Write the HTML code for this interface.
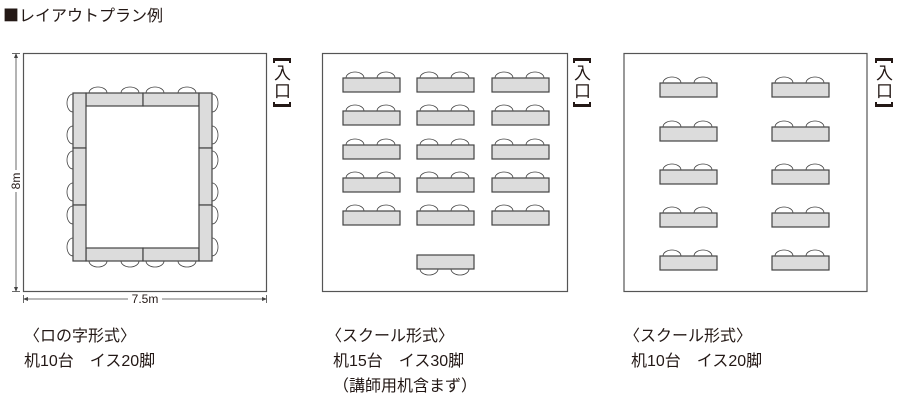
<!DOCTYPE html>
<html><head><meta charset="utf-8"><style>
html,body{margin:0;padding:0;background:#fff;}
svg{display:block;}
text{font-family:"Liberation Sans","Noto Sans CJK JP",sans-serif;fill:#231815;}
</style></head><body>
<svg width="900" height="405" viewBox="0 0 900 405" xmlns="http://www.w3.org/2000/svg">
<defs>
<g id="tb"><path d="M3,0 A9,6 0 0 1 21,0 M34,0 A9,6 0 0 1 52,0" fill="#fff" stroke="#444" stroke-width="0.8"/><rect x="0" y="0" width="57" height="14" fill="#dcdcdc" stroke="#444" stroke-width="1.2"/></g>
<g id="tbd"><path d="M3,14 A9,6 0 0 0 21,14 M34,14 A9,6 0 0 0 52,14" fill="#fff" stroke="#444" stroke-width="0.8"/><rect x="0" y="0" width="57" height="14" fill="#dcdcdc" stroke="#444" stroke-width="1.2"/></g>
<g id="ent">
<path d="M0,0 h18 v5 h-2 v-2 h-14 v2 h-2z" fill="#231815"/>
<text x="1" y="21" font-size="17">入</text><text x="1" y="39" font-size="17">口</text>
<path d="M0,49 h18 v-5 h-2 v2 h-14 v-2 h-2z" fill="#231815"/>
</g>
</defs>
<text x="3" y="21" font-size="16"><tspan font-family="Noto Sans CJK JP, sans-serif">■</tspan>レイアウトプラン例</text>

<!-- Left room -->
<rect x="23.5" y="53.5" width="243" height="238" fill="#fff" stroke="#555" stroke-width="1.2"/>
<g fill="#fff" stroke="#444" stroke-width="0.8">
<path d="M89,93 A9,6 0 0 1 107,93 M121,93 A9,6 0 0 1 139,93 M146,93 A9,6 0 0 1 164,93 M178,93 A9,6 0 0 1 196,93"/>
<path d="M89,261 A9,6 0 0 0 107,261 M121,261 A9,6 0 0 0 139,261 M146,261 A9,6 0 0 0 164,261 M178,261 A9,6 0 0 0 196,261"/>
<path d="M73,94 A6,9 0 0 0 73,112 M73,126 A6,9 0 0 0 73,144 M73,151 A6,9 0 0 0 73,169 M73,183 A6,9 0 0 0 73,201 M73,206 A6,9 0 0 0 73,224 M73,238 A6,9 0 0 0 73,256"/>
<path d="M212,94 A6,9 0 0 1 212,112 M212,126 A6,9 0 0 1 212,144 M212,151 A6,9 0 0 1 212,169 M212,183 A6,9 0 0 1 212,201 M212,206 A6,9 0 0 1 212,224 M212,238 A6,9 0 0 1 212,256"/>
</g>
<g fill="#dcdcdc" stroke="#444" stroke-width="1.2">
<rect x="86" y="93" width="57" height="13"/><rect x="143" y="93" width="56" height="13"/>
<rect x="86" y="248" width="57" height="13"/><rect x="143" y="248" width="56" height="13"/>
<rect x="73" y="93" width="13" height="55"/><rect x="73" y="148" width="13" height="57"/><rect x="73" y="205" width="13" height="56"/>
<rect x="199" y="93" width="13" height="55"/><rect x="199" y="148" width="13" height="57"/><rect x="199" y="205" width="13" height="56"/>
</g>
<!-- dimensions -->
<g stroke="#444" stroke-width="0.8" fill="#444">
<line x1="16" y1="55" x2="16" y2="170"/><line x1="16" y1="192" x2="16" y2="290"/>
<path d="M16,53 l-2,5 h4z M16,292 l-2,-5 h4z" stroke="none"/>
<line x1="12" y1="53.5" x2="20" y2="53.5"/><line x1="12" y1="291.5" x2="20" y2="291.5"/>
<line x1="25" y1="299" x2="128" y2="299"/><line x1="162" y1="299" x2="265" y2="299"/>
<path d="M23,299 l5,-2 v4z M267,299 l-5,-2 v4z" stroke="none"/>
<line x1="23.5" y1="295" x2="23.5" y2="303"/><line x1="266.5" y1="295" x2="266.5" y2="303"/>
</g>
<text x="0" y="0" font-size="12" transform="translate(20,181) rotate(-90)" text-anchor="middle">8m</text>
<text x="145" y="303" font-size="12" text-anchor="middle">7.5m</text>

<!-- entrance labels -->
<use href="#ent" x="273" y="58"/>
<use href="#ent" x="573" y="58"/>
<use href="#ent" x="875" y="58"/>

<!-- Middle room -->
<rect x="322.5" y="53.5" width="245" height="238" fill="#fff" stroke="#555" stroke-width="1.2"/>
<use href="#tb" x="343" y="78"/><use href="#tb" x="417" y="78"/><use href="#tb" x="492" y="78"/>
<use href="#tb" x="343" y="111"/><use href="#tb" x="417" y="111"/><use href="#tb" x="492" y="111"/>
<use href="#tb" x="343" y="145"/><use href="#tb" x="417" y="145"/><use href="#tb" x="492" y="145"/>
<use href="#tb" x="343" y="178"/><use href="#tb" x="417" y="178"/><use href="#tb" x="492" y="178"/>
<use href="#tb" x="343" y="211"/><use href="#tb" x="417" y="211"/><use href="#tb" x="492" y="211"/>
<use href="#tbd" x="417" y="255"/>

<!-- Right room -->
<rect x="624" y="53.5" width="243" height="238" fill="#fff" stroke="#555" stroke-width="1.2"/>
<use href="#tb" x="660" y="83"/><use href="#tb" x="772" y="83"/>
<use href="#tb" x="660" y="127"/><use href="#tb" x="772" y="127"/>
<use href="#tb" x="660" y="170"/><use href="#tb" x="772" y="170"/>
<use href="#tb" x="660" y="213"/><use href="#tb" x="772" y="213"/>
<use href="#tb" x="660" y="256"/><use href="#tb" x="772" y="256"/>

<!-- captions -->
<g font-size="16">
<text x="24" y="341">〈ロの字形式〉</text>
<text x="24" y="366">机10台　イス20脚</text>
<text x="326" y="341">〈スクール形式〉</text>
<text x="333" y="366">机15台　イス30脚</text>
<text x="333" y="391">（講師用机含まず）</text>
<text x="624" y="341">〈スクール形式〉</text>
<text x="631" y="366">机10台　イス20脚</text>
</g>
</svg>
</body></html>
